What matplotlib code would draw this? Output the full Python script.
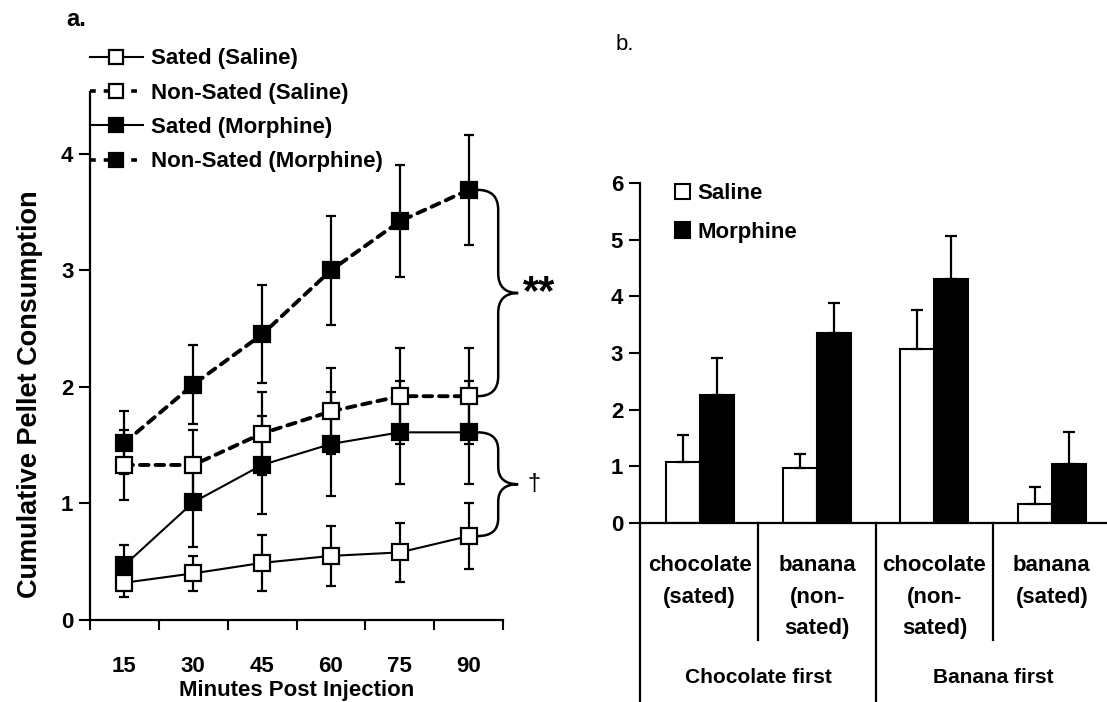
import numpy as np
import matplotlib
matplotlib.use('Agg')
import matplotlib.pyplot as plt
from matplotlib.path import Path
from matplotlib.patches import PathPatch, Patch
from matplotlib.lines import Line2D

plt.rcParams['font.family'] = ['Liberation Sans', 'DejaVu Sans']

# panel a: cumulative pellets over time
minutes = ['15', '30', '45', '60', '75', '90']
sated_saline = [0.32, 0.40, 0.49, 0.55, 0.58, 0.72]
sated_saline_err = [0.12, 0.15, 0.24, 0.26, 0.25, 0.28]
nonsated_saline = [1.33, 1.33, 1.60, 1.79, 1.92, 1.92]
nonsated_saline_err = [0.30, 0.30, 0.36, 0.37, 0.41, 0.41]
sated_morphine = [0.47, 1.01, 1.33, 1.51, 1.61, 1.61]
sated_morphine_err = [0.17, 0.38, 0.42, 0.45, 0.44, 0.44]
nonsated_morphine = [1.52, 2.02, 2.45, 3.00, 3.42, 3.69]
nonsated_morphine_err = [0.27, 0.34, 0.42, 0.47, 0.48, 0.47]

# panel b: pellets by flavour / order
flavours = ['chocolate\n(sated)', 'banana\n(non-\nsated)', 'chocolate\n(non-\nsated)', 'banana\n(sated)']
orders = ['Chocolate first', 'Banana first']
saline_b = [1.08, 0.97, 3.07, 0.34]
saline_b_err = [0.48, 0.25, 0.70, 0.30]
morphine_b = [2.26, 3.36, 4.31, 1.04]
morphine_b_err = [0.66, 0.53, 0.76, 0.57]

fig = plt.figure(figsize=(11.07, 7.02), dpi=100)

# ---------------- panel a ----------------
ax = fig.add_axes([0.0813, 0.1168, 0.3731, 0.7522])
x = np.arange(len(minutes))

series = [
    ('Sated (Saline)', sated_saline, sated_saline_err, 'white', '-'),
    ('Non-Sated (Saline)', nonsated_saline, nonsated_saline_err, 'white', '--'),
    ('Sated (Morphine)', sated_morphine, sated_morphine_err, 'black', '-'),
    ('Non-Sated (Morphine)', nonsated_morphine, nonsated_morphine_err, 'black', '--'),
]
handles = []
for label, vals, errs, face, ls in series:
    ax.errorbar(x, vals, yerr=errs, fmt='none', ecolor='black', elinewidth=1.6,
                capsize=3.6, capthick=1.6, zorder=2)
    if ls == '--':
        ax.plot(x, vals, color='black', lw=2.8, dashes=(2.2, 1.8),
                dash_capstyle='round', zorder=3)
    else:
        ax.plot(x, vals, color='black', lw=1.5, zorder=3)
    ax.plot(x, vals, ls='none', marker='s', ms=11, mfc=face, mec='black',
            mew=1.6, zorder=4)
    h = Line2D([], [], color='black', lw=2.6 if ls == '--' else 1.5,
               marker='s', ms=10, mfc=face, mec='black', mew=1.6)
    if ls == '--':
        h.set_dashes((1.6, 2.2))
    handles.append(h)

ax.set_xlim(-0.5, 5.5)
ax.set_ylim(0, 4.53)
ax.set_xticks(x)
ax.set_xticklabels(minutes)
ax.set_xticks(np.arange(-0.5, 6, 1), minor=True)
ax.tick_params(axis='x', which='major', length=0, pad=26, labelsize=16)
ax.tick_params(axis='x', which='minor', direction='out', length=7, width=1.5)
ax.set_yticks([0, 1, 2, 3, 4])
ax.tick_params(axis='y', direction='out', length=8, width=1.5, pad=4, labelsize=16)
for s in ['top', 'right']:
    ax.spines[s].set_visible(False)
for s in ['left', 'bottom']:
    ax.spines[s].set_linewidth(1.6)
for t in ax.get_xticklabels() + ax.get_yticklabels():
    t.set_fontweight('bold')
ax.set_xlabel('Minutes Post Injection', fontsize=16, fontweight='bold', labelpad=2)
ax.set_ylabel('Cumulative Pellet Consumption', fontsize=19.5, fontweight='bold')
ax.yaxis.set_label_coords(-0.115, 0.428)

fig.legend(handles, [s[0] for s in series], loc='upper left',
           bbox_to_anchor=(0.081, 0.931), frameon=False,
           prop={'weight': 'bold', 'size': 16}, handlelength=2.4,
           handletextpad=0.35, labelspacing=0.6, borderpad=0, borderaxespad=0)


def brace(ax, x0, xv, xt, y1, y2, r):
    ym = (y1 + y2) / 2
    verts = [(x0, y1), (xv, y1), (xv, y1 - r), (xv, ym + r), (xv, ym), (xt, ym),
             (xv, ym), (xv, ym - r), (xv, y2 + r), (xv, y2), (x0, y2)]
    codes = [Path.MOVETO, Path.CURVE3, Path.CURVE3, Path.LINETO, Path.CURVE3,
             Path.CURVE3, Path.CURVE3, Path.CURVE3, Path.LINETO, Path.CURVE3,
             Path.CURVE3]
    ax.add_patch(PathPatch(Path(verts, codes), fill=False, lw=1.8,
                           edgecolor='black', clip_on=False, zorder=5))
    return ym


ym = brace(ax, 5.13, 5.43, 5.72, nonsated_morphine[-1], nonsated_saline[-1], 0.17)
ax.text(5.79, ym, '**', fontsize=30, fontweight='bold', ha='left', va='center')
ym = brace(ax, 5.13, 5.43, 5.72, sated_morphine[-1], sated_saline[-1], 0.15)
ax.text(5.85, ym, '\u2020', fontsize=17, ha='left', va='center')

fig.text(0.06, 0.972, 'a.', fontsize=17, fontweight='bold', ha='left', va='center')
fig.text(0.556, 0.936, 'b.', fontsize=16, ha='left', va='center')

# ---------------- panel b ----------------
bx = fig.add_axes([0.578, 0.255, 0.422, 0.484])
xb = np.arange(len(flavours))
w = 0.29
bx.bar(xb - w / 2, saline_b, w, color='white', edgecolor='black', lw=1.5,
       yerr=[np.zeros(4), saline_b_err], capsize=4,
       error_kw={'elinewidth': 1.6, 'capthick': 1.6}, label='Saline')
bx.bar(xb + w / 2, morphine_b, w, color='black', edgecolor='black', lw=1.5,
       yerr=[np.zeros(4), morphine_b_err], capsize=4,
       error_kw={'elinewidth': 1.6, 'capthick': 1.6}, label='Morphine')
bx.set_xlim(-0.51, 3.47)
bx.set_ylim(0, 6)
bx.set_xticks([])
bx.set_yticks(range(7))
bx.tick_params(axis='y', direction='out', length=8, width=1.5, pad=4, labelsize=16)
for t in bx.get_yticklabels():
    t.set_fontweight('bold')
for s in ['top', 'right']:
    bx.spines[s].set_visible(False)
for s in ['left', 'bottom']:
    bx.spines[s].set_linewidth(1.6)

# separators below the axis
trans = bx.get_xaxis_transform()
bx.plot([0, 0], [0, -0.53], transform=bx.transAxes, color='black', lw=1.6, clip_on=False)
for xs, depth in [(0.5, -0.344), (1.5, -0.53), (2.5, -0.344)]:
    bx.plot([xs, xs], [0, depth], transform=trans, color='black', lw=1.6, clip_on=False)

for i, lab in enumerate(flavours):
    bx.text(i, -0.095, lab, transform=trans, ha='center', va='top', fontsize=16,
            fontweight='bold', linespacing=1.65)
for i, lab in enumerate(orders):
    bx.text(0.5 + 2 * i, -0.456, lab, transform=trans, ha='center', va='center',
            fontsize=15, fontweight='bold')

bhandles = [Patch(facecolor='white', edgecolor='black', lw=1.5),
            Patch(facecolor='black', edgecolor='black', lw=1.5)]
bx.legend(bhandles, ['Saline', 'Morphine'], loc='upper left',
          bbox_to_anchor=(0.075, 1.0), frameon=False,
          prop={'weight': 'bold', 'size': 16}, handlelength=0.7,
          handleheight=0.7, handletextpad=0.3, labelspacing=0.8,
          borderpad=0, borderaxespad=0)

fig.savefig('out.png', dpi=100)
